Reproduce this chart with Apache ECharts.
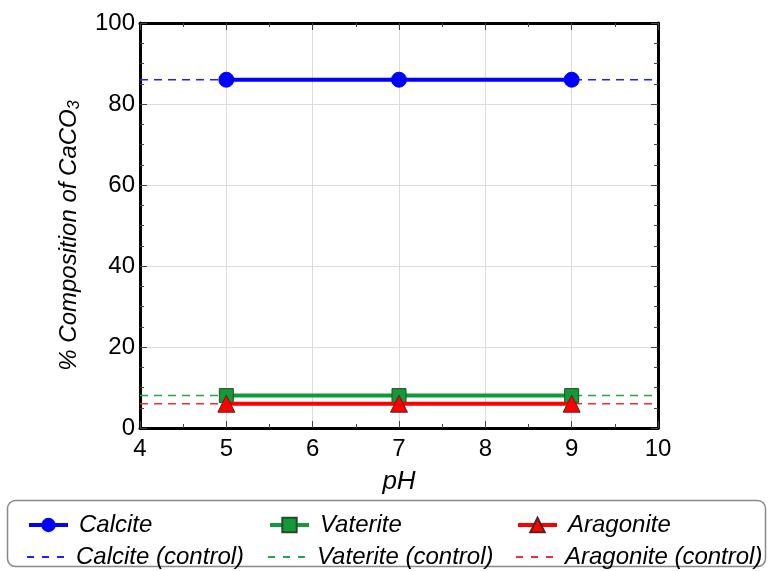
<!DOCTYPE html>
<html><head><meta charset="utf-8">
<script src="https://cdn.jsdelivr.net/npm/echarts@6/dist/echarts.min.js"></script>
<style>html,body{margin:0;padding:0;background:#fff}#c{width:769px;height:571px}</style>
</head><body><div id="c"></div>
<script>
const pH = [5, 7, 9];
const calcite = [86, 86, 86];
const vaterite = [8, 8, 8];
const aragonite = [6, 6, 6];
const controlX = [4, 10];
const calciteControl = 86;
const vateriteControl = 8;
const aragoniteControl = 6;

const FONT = 'Liberation Sans, Arial, sans-serif';
const chart = echarts.init(document.getElementById('c'));
const pair = (xs, ys) => xs.map((x, i) => [x, ys[i]]);
const ctrl = v => controlX.map(x => [x, v]);

const blue = '#0000ff', green = '#109a38', red = '#ff0000';
const cBlue = '#1f1fff', cGreen = '#22a848', cRed = '#ee3030';

function axisCommon(extra) {
  return Object.assign({
    axisLine: {show: true, onZero: false, lineStyle: {color: '#000', width: 3}},
    axisTick: {show: true, inside: true, length: 7, lineStyle: {color: '#444', width: 1}},
    splitLine: {show: false}
  }, extra);
}

const dashIcon = 'path://M0,0H7V2H0Z M15,0H22V2H15Z M30,0H37V2H30Z';
const legendItems = [
  {name: 'Calcite', left: 22, top: 508, dashed: false},
  {name: 'Vaterite', left: 263, top: 508, dashed: false},
  {name: 'Aragonite', left: 511, top: 508, dashed: false},
  {name: 'Calcite (control)', left: 22, top: 540, dashed: true},
  {name: 'Vaterite (control)', left: 263, top: 540, dashed: true},
  {name: 'Aragonite (control)', left: 511, top: 540, dashed: true}
];

chart.setOption({
  animation: false,
  textStyle: {fontFamily: FONT},
  grid: {left: 140, right: 111, top: 23, bottom: 143},
  graphic: [{type: 'rect', shape: {x: 7.5, y: 500.5, width: 758, height: 66, r: 8}, style: {fill: 'none', stroke: '#888', lineWidth: 1.5}, z: -1}],
  legend: legendItems.map(l => ({
    data: [l.dashed ? {name: l.name, icon: dashIcon} : {name: l.name}],
    left: l.left, top: l.top, itemWidth: 39, itemHeight: l.dashed ? 2 : 18,
    lineStyle: l.dashed ? {} : {width: 4},
    textStyle: {fontFamily: FONT, fontSize: 24, fontStyle: 'italic', color: '#000', padding: [0, 0, 0, 6]},
    selectedMode: false
  })),
  xAxis: [
    axisCommon({type: 'value', min: 4, max: 10, interval: 1, position: 'bottom',
      minorTick: {show: true, splitNumber: 2, length: 4, lineStyle: {color: '#444'}},
      axisLabel: {fontSize: 24, color: '#000', margin: 9, fontFamily: FONT},
      splitLine: {show: true, lineStyle: {color: '#dcdcdc', width: 1}},
      name: 'pH', nameLocation: 'middle', nameGap: 41,
      nameTextStyle: {fontSize: 26, fontStyle: 'italic', color: '#000', fontFamily: FONT}}),
    axisCommon({type: 'value', min: 4, max: 10, interval: 1, position: 'top',
      minorTick: {show: true, splitNumber: 2, length: 4, lineStyle: {color: '#444'}},
      axisLabel: {show: false}})
  ],
  yAxis: [
    axisCommon({type: 'value', min: 0, max: 100, interval: 20, position: 'left',
      minorTick: {show: true, splitNumber: 4, length: 4, lineStyle: {color: '#444'}},
      axisLabel: {fontSize: 24, color: '#000', margin: 5, fontFamily: FONT},
      splitLine: {show: true, lineStyle: {color: '#dcdcdc', width: 1}},
      name: '{i|% Composition of CaCO}{s|3}', nameLocation: 'middle', nameGap: 57, nameRotate: 90,
      nameTextStyle: {color: '#000', rich: {
        i: {fontSize: 24, fontStyle: 'italic', fontFamily: FONT, color: '#000'},
        s: {fontSize: 16, fontStyle: 'italic', fontFamily: FONT, color: '#000', verticalAlign: 'bottom', padding: [12, 20, 0, 0]}
      }}}),
    axisCommon({type: 'value', min: 0, max: 100, interval: 20, position: 'right',
      minorTick: {show: true, splitNumber: 4, length: 4, lineStyle: {color: '#444'}},
      axisLabel: {show: false}})
  ],
  series: [
    {name: 'Calcite (control)', type: 'line', data: ctrl(calciteControl), symbol: 'none', z: 2,
      lineStyle: {color: cBlue, width: 1.5, type: [8, 6]}, itemStyle: {color: cBlue}},
    {name: 'Vaterite (control)', type: 'line', data: ctrl(vateriteControl), symbol: 'none', z: 2,
      lineStyle: {color: cGreen, width: 1.5, type: [8, 6]}, itemStyle: {color: cGreen}},
    {name: 'Aragonite (control)', type: 'line', data: ctrl(aragoniteControl), symbol: 'none', z: 2,
      lineStyle: {color: cRed, width: 1.5, type: [8, 6]}, itemStyle: {color: cRed}},
    {name: 'Calcite', type: 'line', data: pair(pH, calcite), symbol: 'circle', symbolSize: 15, z: 5,
      lineStyle: {color: blue, width: 4}, itemStyle: {color: blue, borderColor: blue}},
    {name: 'Vaterite', type: 'line', data: pair(pH, vaterite), symbol: 'rect', symbolSize: 14, z: 5,
      lineStyle: {color: green, width: 4}, itemStyle: {color: green, borderColor: '#2a4a2a', borderWidth: 1}},
    {name: 'Aragonite', type: 'line', data: pair(pH, aragonite), symbol: 'triangle', symbolSize: 17, z: 6,
      lineStyle: {color: red, width: 4}, itemStyle: {color: red, borderColor: '#5a2020', borderWidth: 1}}
  ]
});
</script></body></html>
